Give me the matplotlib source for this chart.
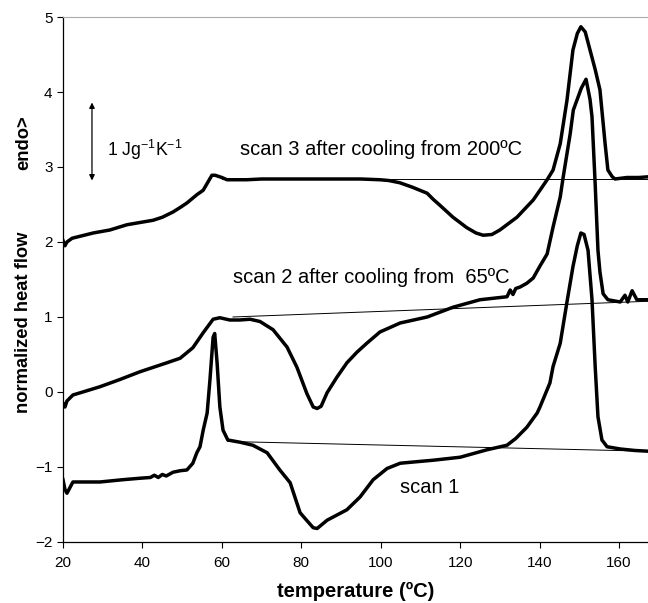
import matplotlib
matplotlib.use("Agg")
import matplotlib.pyplot as plt

plt.rcParams['font.family'] = ['Liberation Sans', 'DejaVu Sans']
plt.rcParams['mathtext.fontset'] = 'custom'
plt.rcParams['mathtext.rm'] = 'Liberation Sans'
plt.rcParams['mathtext.it'] = 'Liberation Sans:italic'
plt.rcParams['mathtext.bf'] = 'Liberation Sans:bold'

# scan 3 (after cooling from 200 C)
x3 = [20, 20.5, 21, 22.3, 27.6, 31.8, 36.1, 42.7, 45, 47.7, 49.5, 51.2, 53.7, 55.3, 57.5, 58.3,
      60, 61.3, 66.3, 70, 80, 90, 95, 99.8, 102, 104.8, 108, 111.7, 113.2, 114.9, 118.2, 121.7,
      124, 125.8, 128, 130, 134.3, 138.4, 140.1, 141.9, 143.4, 145.2, 146.9, 148.4, 149.5, 150.4,
      151.5, 152.7, 154, 155.2, 156.5, 157.2, 158.3, 159, 162, 165, 167.5]
y3 = [2.02, 1.95, 2.0, 2.05, 2.12, 2.16, 2.23, 2.29, 2.33, 2.4, 2.46, 2.52, 2.63, 2.69, 2.89, 2.89,
      2.86, 2.83, 2.83, 2.84, 2.84, 2.84, 2.84, 2.83, 2.82, 2.79, 2.73, 2.65, 2.57, 2.49, 2.33, 2.19,
      2.12, 2.09, 2.1, 2.16, 2.33, 2.56, 2.69, 2.83, 2.96, 3.31, 3.89, 4.56, 4.78, 4.87,
      4.8, 4.56, 4.3, 4.03, 3.31, 2.96, 2.87, 2.84, 2.86, 2.86, 2.87]

# scan 2 (after cooling from 65 C)
x2 = [20, 20.5, 21, 22.5, 25, 29.3, 34, 39.4, 46.2, 49.5, 52.7, 55.3, 57.8, 59.5, 62,
      64.5, 67.1, 69.6, 72.9, 76.4, 78.9, 81.4, 83, 84, 85, 86.5, 89, 91.5, 94, 96.5,
      99.8, 104.9, 111.7, 118.2, 125, 131.8, 132.6, 133.3, 134, 135.1, 136.8, 138.4,
      140.1, 141.9, 143.4, 145.2, 145.9, 147.7, 148.5, 149.4, 150.5, 151.7, 152.7,
      153.2, 154, 154.7, 155.2, 156, 157.2, 160.3, 161.5, 162.2, 163.3, 164.5, 167.5]
y2 = [-0.15, -0.2, -0.12, -0.04, 0.0, 0.07, 0.16, 0.27, 0.39, 0.45, 0.59, 0.79, 0.97,
      0.99, 0.96, 0.96, 0.97, 0.94, 0.83, 0.6, 0.33, -0.02, -0.2, -0.22, -0.19, -0.01,
      0.2, 0.39, 0.53, 0.65, 0.8, 0.92, 1.0, 1.13, 1.23, 1.27, 1.36, 1.3, 1.38, 1.4,
      1.45, 1.52, 1.68, 1.84, 2.2, 2.6, 2.85, 3.44, 3.76, 3.89, 4.05, 4.17, 3.9, 3.67,
      2.77, 1.89, 1.6, 1.31, 1.23, 1.2, 1.29, 1.2, 1.35, 1.23, 1.23]

# scan 1
x1 = [20, 20.5, 21, 22.5, 29.3, 35, 39.4, 42, 43, 44, 45, 46, 47.7, 49.5, 51.2, 52.7,
      53.7, 54.5, 55.3, 56.3, 57, 57.8, 58.2, 58.8, 59.5, 60.3, 61.5, 64.6, 67.8, 71.4,
      74.6, 77.2, 79.7, 81.5, 83, 84, 86.5, 89, 91.5, 94.8, 98.1, 101.6, 104.9, 109,
      113.2, 120, 126.8, 131.8, 134, 136.8, 139.4, 140.1, 142.6, 143.4, 145.2, 146.9,
      148.4, 149.5, 150.4, 151.2, 152.2, 153.2, 154, 154.7, 155.7, 157, 160.3, 164, 167.5]
y1 = [-1.17, -1.3, -1.35, -1.2, -1.2, -1.17, -1.15, -1.14, -1.11, -1.14, -1.1, -1.12,
      -1.07, -1.05, -1.04, -0.95, -0.81, -0.73, -0.51, -0.28, 0.16, 0.73, 0.78, 0.39,
      -0.2, -0.51, -0.64, -0.67, -0.71, -0.81, -1.04, -1.21, -1.61, -1.72, -1.81, -1.82,
      -1.71, -1.64, -1.57, -1.4, -1.17, -1.02, -0.95, -0.93, -0.91, -0.87, -0.77, -0.71,
      -0.62, -0.47, -0.28, -0.2, 0.12, 0.34, 0.65, 1.2, 1.67, 1.95, 2.12, 2.1, 1.89,
      1.23, 0.34, -0.33, -0.64, -0.73, -0.76, -0.78, -0.79]

# thin baselines (start, end)
base3_x = [60, 167.5]
base3_y = [2.845, 2.845]
base2_x = [62.8, 167.5]
base2_y = [1.0, 1.21]
base1_x = [61.5, 167.5]
base1_y = [-0.66, -0.79]

xticks = [20, 40, 60, 80, 100, 120, 140, 160]
yticks = [-2, -1, 0, 1, 2, 3, 4, 5]

fig = plt.figure(figsize=(6.48, 6.03), dpi=100)
ax = fig.add_axes([0.0972, 0.1012, 0.9028, 0.8706])

for bx, by in [(base3_x, base3_y), (base2_x, base2_y), (base1_x, base1_y)]:
    ax.plot(bx, by, color='black', lw=0.7)
for xs, ys in [(x3, y3), (x2, y2), (x1, y1)]:
    ax.plot(xs, ys, color='black', lw=2.5, solid_joinstyle='round')

ax.set_xlim(20, 167.3)
ax.set_ylim(-2, 5)
ax.set_xticks(xticks)
ax.set_yticks(yticks)
ax.tick_params(direction='out', length=4, width=0.8, labelsize=11, colors='black')
ax.tick_params(axis='x', pad=6)
ax.spines['right'].set_visible(False)
ax.spines['top'].set_color('#aaaaaa')
ax.spines['left'].set_linewidth(0.9)
ax.spines['bottom'].set_linewidth(0.9)

ax.set_xlabel('temperature (ºC)', fontsize=14.5, fontweight='bold', labelpad=9)
ax.text(-0.067, 0.419, 'normalized heat flow', transform=ax.transAxes, rotation=90,
        ha='center', va='center', fontsize=13.2, fontweight='bold')
ax.text(-0.067, 0.76, 'endo>', transform=ax.transAxes, rotation=90,
        ha='center', va='center', fontsize=13.2, fontweight='bold')

ax.annotate('', xy=(27.3, 2.82), xytext=(27.3, 3.86),
            arrowprops=dict(arrowstyle='<|-|>', color='black', lw=0.9,
                            mutation_scale=8, shrinkA=0, shrinkB=0))
ax.text(31.0, 3.23, '1 Jg$^{-1}$K$^{-1}$', fontsize=12.7, ha='left', va='center')
ax.text(64.6, 3.23, 'scan 3 after cooling from 200ºC', fontsize=14.5, ha='left', va='center')
ax.text(62.8, 1.52, 'scan 2 after cooling from  65ºC', fontsize=14.5, ha='left', va='center')
ax.text(104.9, -1.28, 'scan 1', fontsize=14.5, ha='left', va='center')

fig.savefig('out.png', dpi=100)
